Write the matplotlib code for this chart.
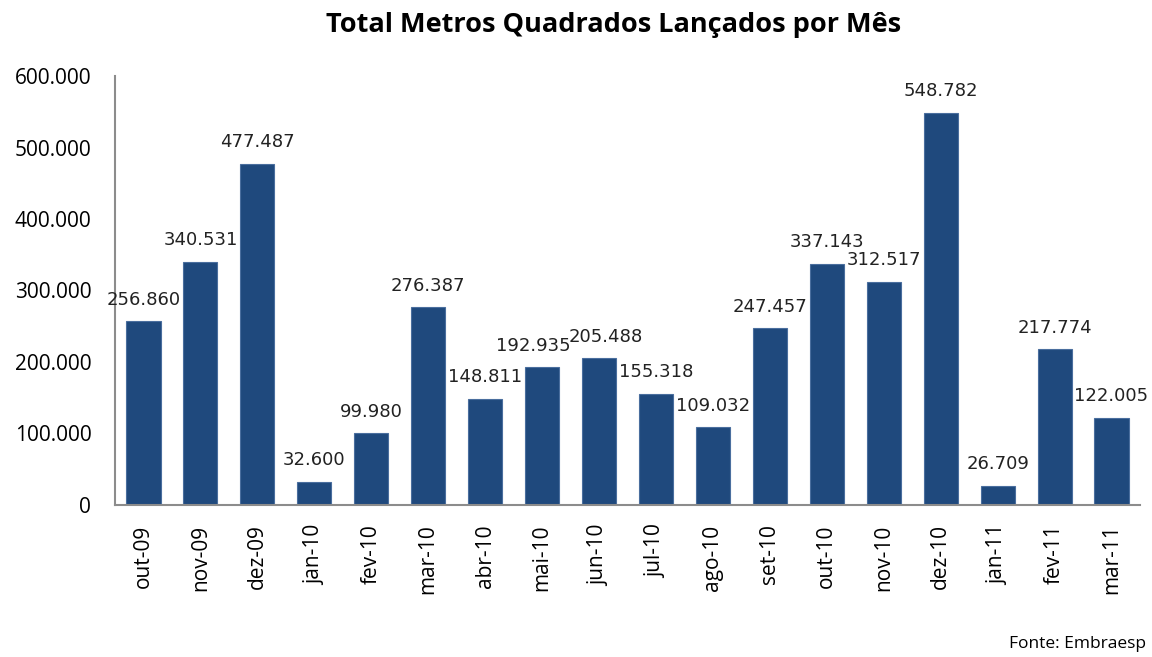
import matplotlib
matplotlib.use("Agg")
import matplotlib.pyplot as plt

meses = ["out-09", "nov-09", "dez-09", "jan-10", "fev-10", "mar-10", "abr-10",
         "mai-10", "jun-10", "jul-10", "ago-10", "set-10", "out-10", "nov-10",
         "dez-10", "jan-11", "fev-11", "mar-11"]
metros = [256860, 340531, 477487, 32600, 99980, 276387, 148811, 192935, 205488,
          155318, 109032, 247457, 337143, 312517, 548782, 26709, 217774, 122005]
yticks = [0, 100000, 200000, 300000, 400000, 500000, 600000]


def fmt(v):
    return f"{v:,}".replace(",", ".")


fig = plt.figure(figsize=(11.52, 6.57), dpi=100)
ax = fig.add_axes([0.0998, 0.2314, 0.8898, 0.6529])

x = range(len(meses))
ax.bar(x, metros, width=0.6, color="#1F497D", edgecolor="#4A6E9E", linewidth=0.8)

# small sideways nudges so the mai-10 / jun-10 labels don't collide
nudge = {7: -6, 8: 5}
for i, v in enumerate(metros):
    ax.annotate(fmt(v), (i, v), xytext=(nudge.get(i, 0), 9), textcoords="offset points",
                ha="center", va="bottom", fontsize=13, family="DejaVu Sans",
                color="#222222")

ax.set_xlim(-0.5, len(meses) - 0.5)
ax.set_ylim(0, 600000)
ax.set_yticks(yticks)
ax.set_yticklabels([fmt(t) if t else "0" for t in yticks], family="Open Sans", fontsize=15)
ax.set_xticks(list(x))
ax.set_xticklabels(meses, rotation=90, family="Open Sans", fontsize=15)
ax.tick_params(axis="y", length=0, pad=17)
ax.tick_params(axis="x", length=0, pad=14)

for s in ["top", "right"]:
    ax.spines[s].set_visible(False)
for s in ["left", "bottom"]:
    ax.spines[s].set_color("#8C8C8C")
    ax.spines[s].set_linewidth(1.5)

fig.suptitle("Total Metros Quadrados Lançados por Mês", x=0.533, y=0.982,
             fontsize=19.5, fontweight="bold", family="Open Sans")
fig.text(0.995, 0.008, "Fonte: Embraesp", ha="right", va="bottom",
         family="Open Sans", fontsize=12.5)

fig.savefig("out.png", dpi=100)
